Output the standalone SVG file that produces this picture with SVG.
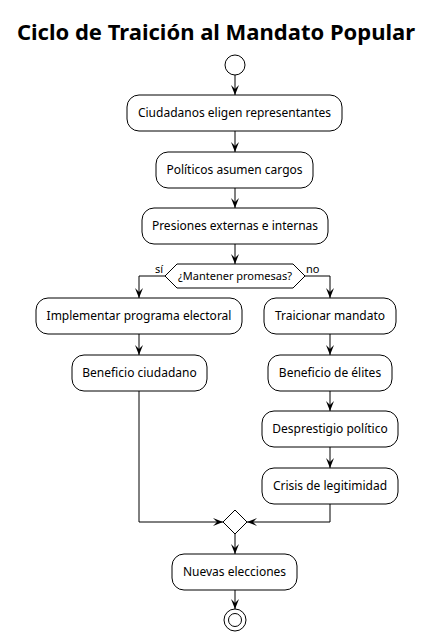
<svg xmlns="http://www.w3.org/2000/svg" width="433" height="637" viewBox="0 0 433 637">
<defs>
<style>
.box{fill:#fff;stroke:#000;stroke-width:1}
.t{font-family:"Noto Sans","Open Sans","DejaVu Sans",sans-serif;font-size:12px;fill:#000;text-anchor:middle}
.lbl{font-family:"Noto Sans","Open Sans","DejaVu Sans",sans-serif;font-size:11px;fill:#000}
.c{fill:none;stroke:#000;stroke-width:1;marker-end:url(#ah)}
</style>
<marker id="ah" viewBox="0 0 10 8" refX="10" refY="4" markerWidth="10" markerHeight="8" markerUnits="userSpaceOnUse" orient="auto">
<path d="M0,0 L10,4 L0,8 L4,4 Z" fill="#000"/>
</marker>
</defs>
<rect width="433" height="637" fill="#fff"/>
<text x="216" y="40" font-family="'Noto Sans','Open Sans','DejaVu Sans',sans-serif" font-size="22" font-weight="bold" text-anchor="middle">Ciclo de Traición al Mandato Popular</text>

<g id="connectors">
<path class="c" d="M235,75 V95"/>
<path class="c" d="M235,131 V152"/>
<path class="c" d="M235,188 V208"/>
<path class="c" d="M235,244 V264"/>
<path class="c" d="M165,276 H139 V298"/>
<path class="c" d="M305,276 H330 V298"/>
<path class="c" d="M139,334 V355"/>
<path class="c" d="M139,391 V522 H223"/>
<path class="c" d="M330,334 V355"/>
<path class="c" d="M330,391 V411"/>
<path class="c" d="M330,447 V468"/>
<path class="c" d="M330,504 V522 H247"/>
<path class="c" d="M235,534 V554"/>
<path class="c" d="M235,590 V609"/>
</g>

<g id="start"><circle cx="235" cy="65" r="10" fill="#fff" stroke="#000"/></g>

<g id="n1"><rect class="box" x="127" y="95" width="215" height="36" rx="12"/><text class="t" x="234.5" y="117">Ciudadanos eligen representantes</text></g>
<g id="n2"><rect class="box" x="156" y="152" width="157" height="36" rx="12"/><text class="t" x="234.5" y="174">Políticos asumen cargos</text></g>
<g id="n3"><rect class="box" x="142" y="208" width="186" height="36" rx="12"/><text class="t" x="235" y="230">Presiones externas e internas</text></g>

<g id="decision">
<polygon points="165,276 177,264 293,264 305,276 293,288 177,288" fill="#fff" stroke="#000"/>
<text class="t" x="235" y="280" style="font-size:11px">¿Mantener promesas?</text>
<text class="lbl" x="155" y="273">sí</text>
<text class="lbl" x="306" y="273">no</text>
</g>

<g id="n4"><rect class="box" x="36" y="298" width="206" height="36" rx="12"/><text class="t" x="139" y="320">Implementar programa electoral</text></g>
<g id="n5"><rect class="box" x="72" y="355" width="135" height="36" rx="12"/><text class="t" x="139.5" y="377">Beneficio ciudadano</text></g>
<g id="n6"><rect class="box" x="264" y="298" width="132" height="36" rx="12"/><text class="t" x="330" y="320">Traicionar mandato</text></g>
<g id="n7"><rect class="box" x="268" y="355" width="124" height="36" rx="12"/><text class="t" x="330" y="377">Beneficio de élites</text></g>
<g id="n8"><rect class="box" x="262" y="411" width="136" height="36" rx="12"/><text class="t" x="330" y="433">Desprestigio político</text></g>
<g id="n9"><rect class="box" x="262" y="468" width="136" height="36" rx="12"/><text class="t" x="330" y="490">Crisis de legitimidad</text></g>

<g id="merge"><polygon points="235,510 247,522 235,534 223,522" fill="#fff" stroke="#000"/></g>

<g id="n10"><rect class="box" x="172" y="554" width="125" height="36" rx="12"/><text class="t" x="234.5" y="576">Nuevas elecciones</text></g>

<g id="end">
<circle cx="235" cy="620" r="11" fill="#fff" stroke="#000"/>
<circle cx="235" cy="620" r="6.5" fill="#fff" stroke="#000"/>
</g>
</svg>
